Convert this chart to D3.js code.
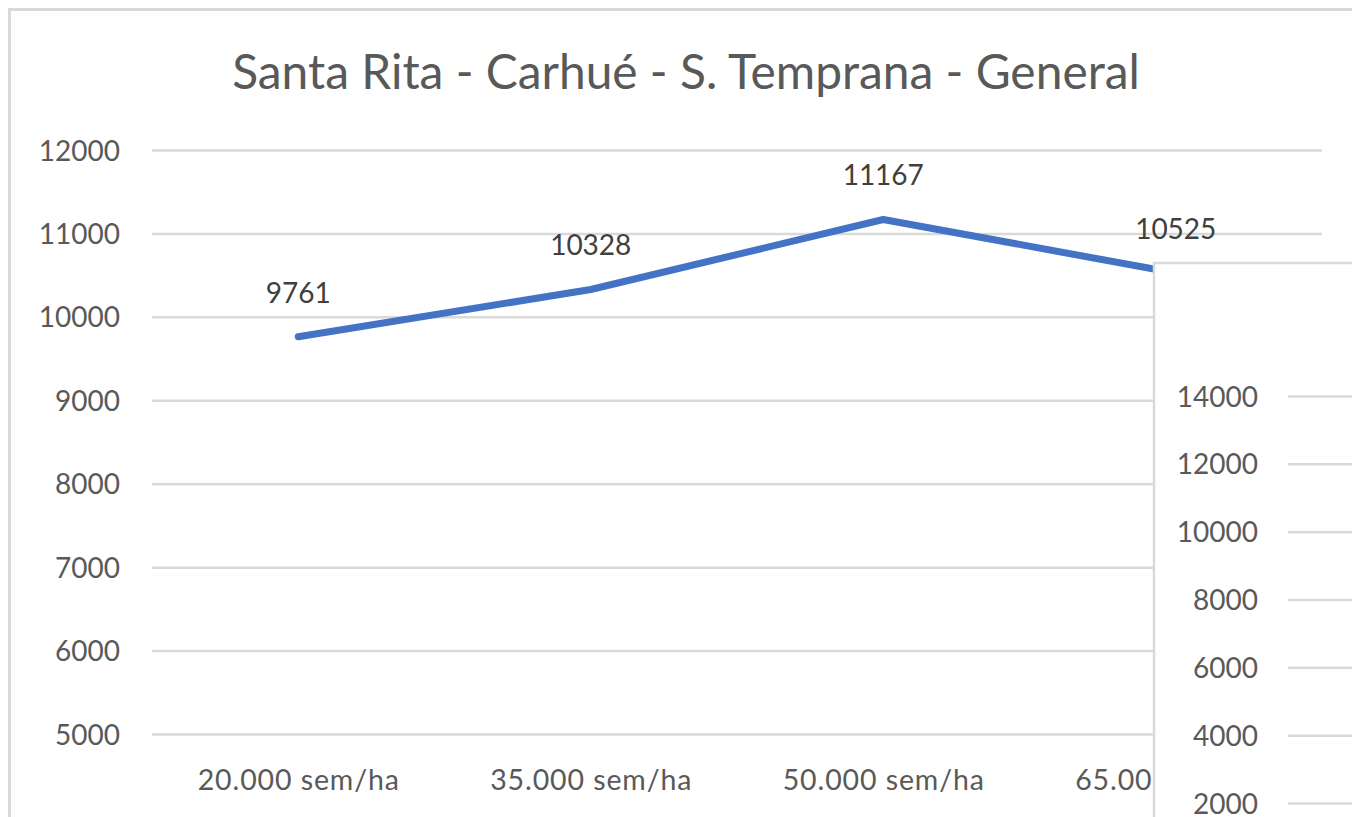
<!DOCTYPE html>
<html>
<head>
<meta charset="utf-8">
<script src="https://cdn.jsdelivr.net/npm/d3@7"></script>
<style>
  html, body { margin: 0; padding: 0; background: #ffffff; }
  svg { display: block; }
  text { font-family: Lato, "Open Sans", sans-serif; }
</style>
</head>
<body>
<svg id="chart" width="1352" height="817"></svg>
<script>
// ---- data ----
const title = "Santa Rita - Carhué - S. Temprana - General";
const categories = ["20.000 sem/ha", "35.000 sem/ha", "50.000 sem/ha", "65.000 sem/ha"];
const values = [9761, 10328, 11167, 10525];
const yTicks = [5000, 6000, 7000, 8000, 9000, 10000, 11000, 12000];
// overlapping second chart (only its axis is visible)
const yTicks2 = [2000, 4000, 6000, 8000, 10000, 12000, 14000];

const W = 1352, H = 817;
const svg = d3.select("#chart");
const grid = "#d9d9d9", axisText = "#595959", labelText = "#404040", lineColor = "#4472C4";

// second chart box position (it sits on top of the first chart)
const box2X = 1154, box2Y = 263;

// clip for chart 1 content hidden by chart 2
const defs = svg.append("defs");
defs.append("clipPath").attr("id", "c1clip").append("path")
  .attr("d", `M0,0H${W}V${box2Y}H${box2X}V${H}H0Z`);

// chart 1 frame
svg.append("rect").attr("x", 9.5).attr("y", 9.5).attr("width", 1500).attr("height", 1000)
  .attr("fill", "#fff").attr("stroke", grid).attr("stroke-width", 3);

const c1 = svg.append("g").attr("clip-path", "url(#c1clip)");

// title
const t = c1.append("text").text(title).attr("x", 686).attr("y", 89)
  .attr("text-anchor", "middle").attr("fill", axisText).attr("font-size", 40);
const tw = t.node().getComputedTextLength();
t.attr("font-size", 40 * 908 / tw);

const plotL = 152, plotR = 1322;
const x = d3.scalePoint().domain(categories).range([plotL, plotR]).padding(0.5);
const y = d3.scaleLinear().domain([5000, 12000]).range([734, 150]);

// y axis + gridlines
const ya = c1.append("g").attr("transform", `translate(${plotL},0)`)
  .call(d3.axisLeft(y).tickValues(yTicks).tickSize(-(plotR - plotL)).tickPadding(32).tickFormat(d3.format("d")));
ya.select(".domain").remove();
ya.selectAll(".tick line").attr("stroke", grid).attr("stroke-width", 2.5);
ya.selectAll(".tick text").attr("fill", axisText).attr("font-size", 28)
  .attr("font-family", "Lato, 'Open Sans', sans-serif").attr("dy", "0.36em");

// x axis labels
const xa = c1.append("g").attr("transform", `translate(0,734)`)
  .call(d3.axisBottom(x).tickSize(0));
xa.select(".domain").remove();
xa.selectAll(".tick text").attr("fill", axisText).attr("font-size", 28.5)
  .attr("letter-spacing", "0.9px")
  .attr("font-family", "Lato, 'Open Sans', sans-serif").attr("y", 56).attr("dy", 0);

// line
const line = d3.line().x((d, i) => x(categories[i])).y(d => y(d));
c1.append("path").datum(values).attr("d", line).attr("fill", "none")
  .attr("stroke", lineColor).attr("stroke-width", 7)
  .attr("stroke-linecap", "round").attr("stroke-linejoin", "round");

// data labels
c1.append("g").selectAll("text").data(values).join("text")
  .attr("x", (d, i) => x(categories[i])).attr("y", d => y(d) - 34)
  .attr("text-anchor", "middle").attr("fill", labelText).attr("font-size", 28)
  .text(d => d);

// ---- overlapping second chart ----
const g2 = svg.append("g");
g2.append("rect").attr("x", box2X).attr("y", box2Y).attr("width", 400).attr("height", 700)
  .attr("fill", "#fff").attr("stroke", grid).attr("stroke-width", 2.5);
const y2 = d3.scaleLinear().domain([2000, 14000]).range([803, 396]);
const ya2 = g2.append("g").attr("transform", `translate(1288,0)`)
  .call(d3.axisLeft(y2).tickValues(yTicks2).tickSize(-200).tickPadding(30).tickFormat(d3.format("d")));
ya2.select(".domain").remove();
ya2.selectAll(".tick line").attr("stroke", grid).attr("stroke-width", 2.5);
ya2.selectAll(".tick text").attr("fill", axisText).attr("font-size", 28)
  .attr("font-family", "Lato, 'Open Sans', sans-serif").attr("dy", "0.36em");
</script>
</body>
</html>
